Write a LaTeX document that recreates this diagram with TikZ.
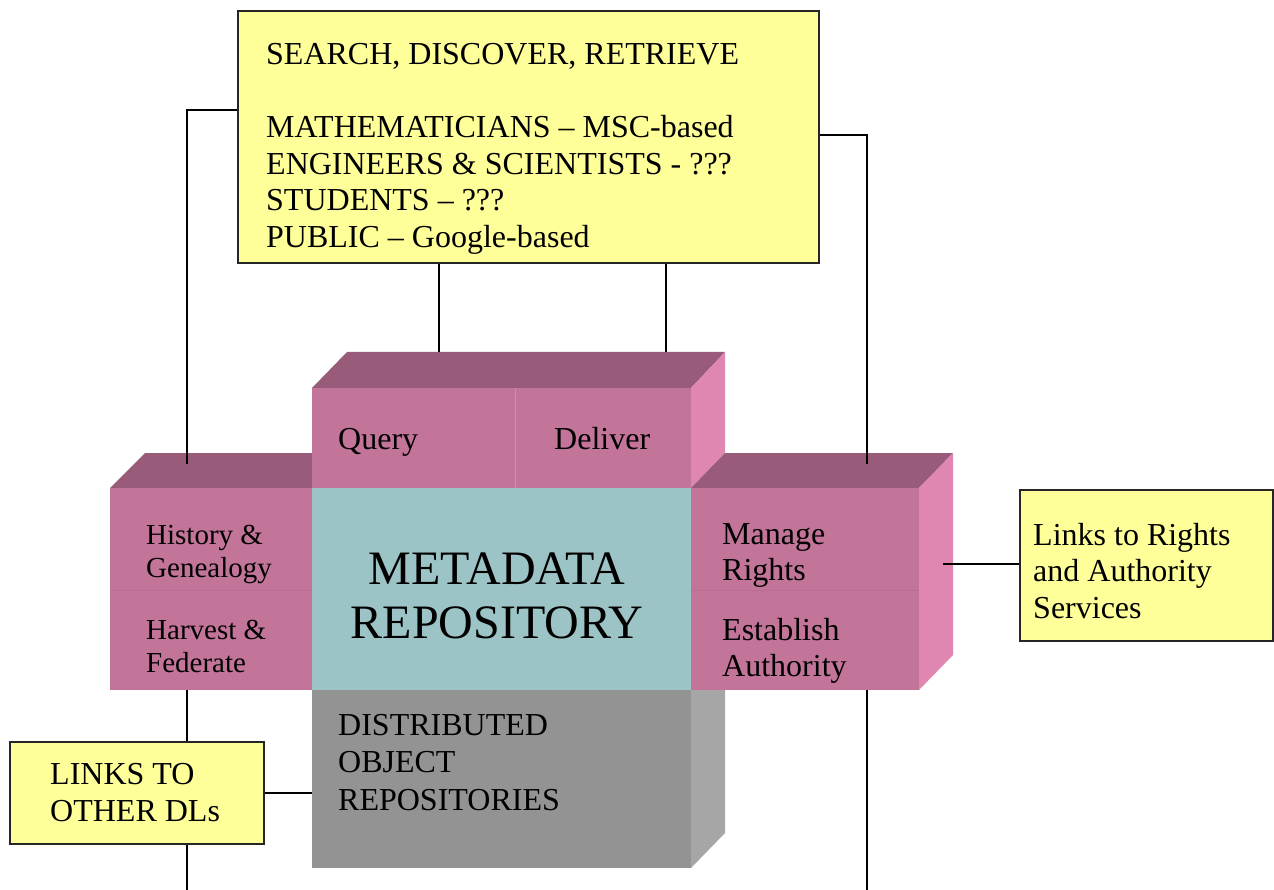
\documentclass[tikz,border=0pt]{standalone}
\usepackage{fontspec}
\setmainfont{Liberation Serif}
\usetikzlibrary{calc}

\definecolor{noteyellow}{HTML}{FFFF99}
\definecolor{facefront}{HTML}{C27499}
\definecolor{facetop}{HTML}{985C7A}
\definecolor{faceside}{HTML}{DF86B1}
\definecolor{coreteal}{HTML}{9CC3C5}
\definecolor{storefront}{HTML}{939393}
\definecolor{storeside}{HTML}{A6A6A6}
\definecolor{seamlight}{HTML}{D68BAE}
\definecolor{seamdark}{HTML}{B86D91}

\tikzset{
  note/.style={draw=black!85, line width=2pt, fill=noteyellow, inner sep=0pt, anchor=north west},
  face/.style={inner sep=0pt, anchor=north west, draw=none},
  conn/.style={draw=black, line width=1.9pt},
  txt/.style={inner sep=0pt, anchor=base west, font=\fontsize{32}{36.5}\selectfont},
  small/.style={txt, font=\fontsize{29}{33}\selectfont},
}
\newcommand{\stack}[1]{\begin{tabular}[t]{@{}l@{}}#1\end{tabular}}

\begin{document}
\begin{tikzpicture}[x=1pt,y=-1pt]
\useasboundingbox (0,0) rectangle (1274,890);

% --- left block: top face
\fill[facetop] (110,488) -- (145,453) -- (347,453) -- (312,488) -- cycle;

% --- upper block (Query / Deliver)
\fill[facetop] (312,388) -- (347,352) -- (725,352) -- (691,388) -- cycle;
\fill[faceside] (691,388) -- (725,352) -- (725,453) -- (691,488) -- cycle;
\node[face, fill=facefront, minimum width=203pt, minimum height=100pt] (query) at (312,388) {};
\node[face, fill=facefront, minimum width=176pt, minimum height=100pt] (deliver) at (515,388) {};
\draw[seamlight, line width=1pt] (query.north east) -- (query.south east);

% --- right block (rights / authority)
\fill[facetop] (691,488) -- (725,453) -- (953,453) -- (919,488) -- cycle;
\fill[faceside] (919,488) -- (953,453) -- (953,655) -- (919,690) -- cycle;
\node[face, fill=facefront, minimum width=228pt, minimum height=102pt] (rights) at (691,488) {};
\node[face, fill=facefront, minimum width=228pt, minimum height=100pt] (authority) at (691,590) {};
\draw[seamdark, line width=1pt] (rights.south west) -- (rights.south east);

% --- left block (history / harvest)
\node[face, fill=facefront, minimum width=202pt, minimum height=102pt] (history) at (110,488) {};
\node[face, fill=facefront, minimum width=202pt, minimum height=100pt] (harvest) at (110,590) {};
\draw[seamdark, line width=1pt] (history.south west) -- (history.south east);

% --- central repository
\node[face, fill=coreteal, minimum width=379pt, minimum height=202pt] (meta) at (312,488) {};

% --- object repositories below
\fill[storeside] (691,690) -- (725,690) -- (725,833) -- (691,868) -- cycle;
\node[face, fill=storefront, minimum width=379pt, minimum height=178pt] (store) at (312,690) {};

% --- yellow notes
\node[note, minimum width=581pt, minimum height=252pt] (search) at (237,10) {};
\node[note, minimum width=254pt, minimum height=102pt] (otherdl) at (9,741) {};
\node[note, minimum width=253pt, minimum height=151pt] (rightslink) at (1019,489) {};

% --- connector end points
\coordinate (hgTop) at (187,464);
\coordinate (hgBot) at (187,890);
\coordinate (mrTop) at (867,464);
\coordinate (mrBot) at (867,890);
\coordinate (qTop) at (439,352);
\coordinate (dTop) at (666,352);
\coordinate (sideTap) at (943,564);

% --- connectors
\draw[conn] ([yshift=-100pt]search.north west) -| (hgTop);
\draw[conn] ([yshift=-125pt]search.north east) -| (mrTop);
\draw[conn] (search.south -| qTop) -- (qTop);
\draw[conn] (search.south -| dTop) -- (dTop);
\draw[conn] (harvest.south -| hgTop) -- (otherdl.north -| hgTop);
\draw[conn] (otherdl.south -| hgTop) -- (hgBot);
\draw[conn] (otherdl.east) -- (otherdl.east -| store.west);
\draw[conn] (authority.south -| mrTop) -- (mrBot);
\draw[conn] (sideTap) -- (sideTap -| rightslink.west);

% --- texts
\node[txt] (searchtxt) at (266,65) {\stack{SEARCH, DISCOVER, RETRIEVE\\ \\
  MATHEMATICIANS – MSC-based\\ ENGINEERS \& SCIENTISTS - ???\\
  STUDENTS – ???\\ PUBLIC – Google-based}};
\node[txt] (querytxt) at (338,449) {Query};
\node[txt] (delivertxt) at (554,449) {Deliver};
\node[small] (historytxt) at (146,544) {\stack{History \&\\ Genealogy}};
\node[small] (harvesttxt) at (146,639) {\stack{Harvest \&\\ Federate}};
\node[inner sep=0pt, anchor=base, font=\fontsize{48}{54}\selectfont] (metatxt) at (497,584)
  {\begin{tabular}[t]{@{}c@{}}METADATA\\ REPOSITORY\end{tabular}};
\node[txt] (rightstxt) at (722,544) {\stack{Manage\\ Rights}};
\node[txt] (authoritytxt) at (722,640) {\stack{Establish\\ Authority}};
\node[txt] (linkstxt) at (1033,545) {\stack{Links to Rights\\ and Authority\\ Services}};
\node[txt, font=\fontsize{32}{37.5}\selectfont] (storetxt) at (338,735)
  {\stack{DISTRIBUTED\\ OBJECT\\ REPOSITORIES}};
\node[txt, font=\fontsize{32}{37}\selectfont] (otherdltxt) at (50,784) {\stack{LINKS TO\\ OTHER DLs}};
\end{tikzpicture}
\end{document}
